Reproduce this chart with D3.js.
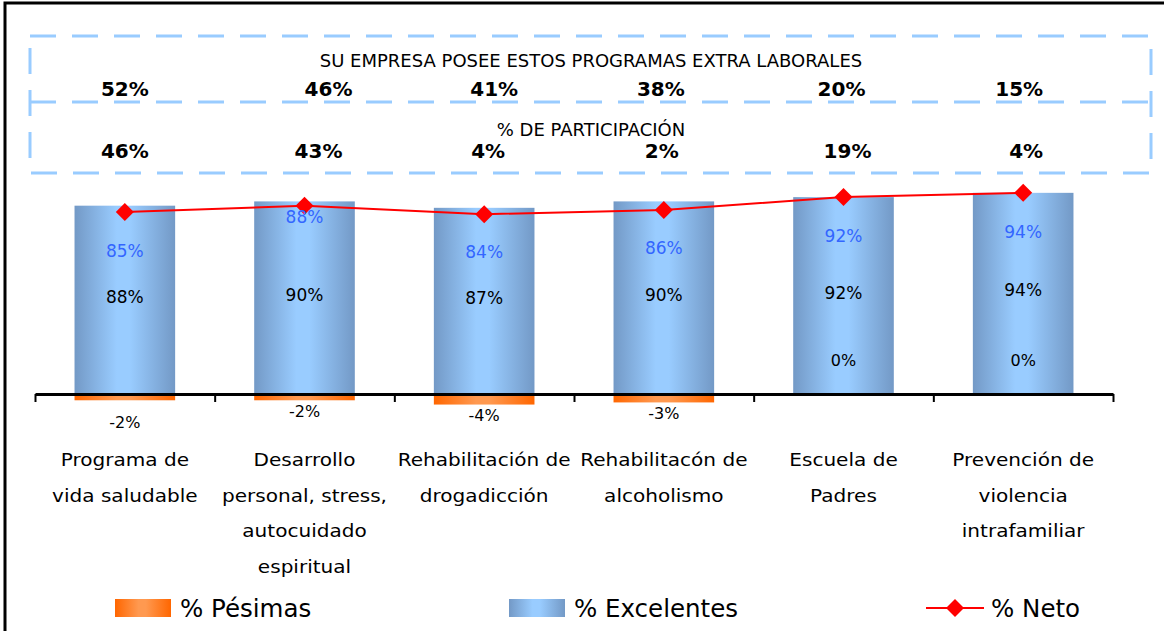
<!DOCTYPE html>
<html>
<head>
<meta charset="utf-8">
<script src="https://cdn.jsdelivr.net/npm/d3@7"></script>
<style>
  body { margin: 0; background: #fff; }
  text { font-family: "DejaVu Sans", sans-serif; }
</style>
</head>
<body>
<div id="chart"></div>
<script>
// Chart data
var categories = [
  "Programa de\nvida saludable",
  "Desarrollo\npersonal, stress,\nautocuidado\nespiritual",
  "Rehabilitación de\ndrogadicción",
  "Rehabilitacón de\nalcoholismo",
  "Escuela de\nPadres",
  "Prevención de\nviolencia\nintrafamiliar"
];
var posee = [52, 46, 41, 38, 20, 15];          // SU EMPRESA POSEE ESTOS PROGRAMAS
var participacion = [46, 43, 4, 2, 19, 4];     // % DE PARTICIPACIÓN
var excelentes = [88, 90, 87, 90, 92, 94];
var pesimas = [-2, -2, -4, -3, 0, 0];
var neto = [85, 88, 84, 86, 92, 94];
var legendNames = ["% Pésimas", "% Excelentes", "% Neto"];

// label placement tweaks copied from the original layout
var netoLabelDy = [39, 11, 38, 38, 39, 39];
var poseeNudge = [0, 24, 10, -3, -2, -4];
var partNudge = [0, 14, 4, -2, 4, 3];

var svgWidth = 1164;
var svgHeight = 631;

var svg = d3.select("#chart")
  .append("svg")
  .attr("width", svgWidth)
  .attr("height", svgHeight);

// gradients
var defs = svg.append("defs");
function addGradient(id, edge, mid) {
  var g = defs.append("linearGradient").attr("id", id)
    .attr("x1", "0%").attr("x2", "100%").attr("y1", "0%").attr("y2", "0%");
  g.append("stop").attr("offset", "0%").attr("stop-color", edge);
  g.append("stop").attr("offset", "42%").attr("stop-color", mid);
  g.append("stop").attr("offset", "55%").attr("stop-color", mid);
  g.append("stop").attr("offset", "100%").attr("stop-color", edge);
}
addGradient("gradBlue", "#7399C6", "#99CCFF");
addGradient("gradOrange", "#FF6600", "#FF9950");

// outer frame
svg.append("rect")
  .attr("x", 5).attr("y", 3)
  .attr("width", 1200).attr("height", 700)
  .attr("fill", "none")
  .attr("stroke", "#000")
  .attr("stroke-width", 3);

// scales
var x = d3.scaleBand()
  .domain(d3.range(categories.length))
  .range([35, 1113])
  .paddingInner(0.44)
  .paddingOuter(0.22);

var xEdge = d3.scaleLinear()
  .domain([0, categories.length])
  .range([35, 1113]);

var y = d3.scaleLinear()
  .domain([0, 100])
  .range([394, 180]);

var cx = function(i) { return x(i) + x.bandwidth() / 2; };

// dashed header boxes
var dash = svg.append("g")
  .attr("fill", "none")
  .attr("stroke", "#99CCFF")
  .attr("stroke-width", 3)
  .attr("stroke-dasharray", "26,16");
dash.append("rect").attr("x", 30).attr("y", 36).attr("width", 1121).attr("height", 137);
dash.append("line").attr("x1", 30).attr("x2", 1151).attr("y1", 102).attr("y2", 102);

svg.append("text")
  .attr("x", 591).attr("y", 67)
  .attr("text-anchor", "middle")
  .attr("font-size", "18px")
  .text("SU EMPRESA POSEE ESTOS PROGRAMAS EXTRA LABORALES");

svg.append("text")
  .attr("x", 591).attr("y", 136)
  .attr("text-anchor", "middle")
  .attr("font-size", "18px")
  .text("% DE PARTICIPACIÓN");

svg.append("g").selectAll("text")
  .data(posee)
  .enter()
  .append("text")
  .attr("x", (d, i) => cx(i) + poseeNudge[i])
  .attr("y", 96)
  .attr("text-anchor", "middle")
  .attr("font-size", "20px")
  .attr("font-weight", "bold")
  .text(d => d + "%");

svg.append("g").selectAll("text")
  .data(participacion)
  .enter()
  .append("text")
  .attr("x", (d, i) => cx(i) + partNudge[i])
  .attr("y", 158)
  .attr("text-anchor", "middle")
  .attr("font-size", "20px")
  .attr("font-weight", "bold")
  .text(d => d + "%");

// Excelentes bars
svg.append("g").selectAll("rect")
  .data(excelentes)
  .enter()
  .append("rect")
  .attr("x", (d, i) => x(i))
  .attr("y", d => y(d))
  .attr("width", x.bandwidth())
  .attr("height", d => y(0) - y(d))
  .attr("fill", "url(#gradBlue)");

// Pésimas bars (negative)
svg.append("g").selectAll("rect")
  .data(pesimas)
  .enter()
  .append("rect")
  .attr("x", (d, i) => x(i))
  .attr("y", y(0))
  .attr("width", x.bandwidth())
  .attr("height", d => y(d) - y(0) + (d < 0 ? 2 : 0))
  .attr("fill", "url(#gradOrange)");

// axis with boundary ticks
svg.append("g")
  .attr("transform", `translate(0, ${y(0)})`)
  .call(d3.axisBottom(xEdge).ticks(categories.length).tickSize(8).tickSizeOuter(0).tickFormat(""))
  .call(g => g.select(".domain").attr("stroke-width", 3))
  .call(g => g.selectAll(".tick line").attr("stroke-width", 2));

// Excelentes labels
svg.append("g").selectAll("text")
  .data(excelentes)
  .enter()
  .append("text")
  .attr("x", (d, i) => cx(i))
  .attr("y", d => (y(d) + y(0)) / 2 - 3)
  .attr("dy", "0.35em")
  .attr("text-anchor", "middle")
  .attr("font-size", "17px")
  .text(d => d + "%");

// Pésimas labels
svg.append("g").selectAll("text")
  .data(pesimas)
  .enter()
  .append("text")
  .attr("x", (d, i) => cx(i))
  .attr("y", (d, i) => d < 0 ? y(d) + (i === 0 ? 24 : 13) : y(0) - 34)
  .attr("dy", "0.35em")
  .attr("text-anchor", "middle")
  .attr("font-size", "16px")
  .text(d => d + "%");

// Neto line
var line = d3.line()
  .x((d, i) => cx(i))
  .y(d => y(d));

svg.append("path")
  .datum(neto)
  .attr("d", line)
  .attr("fill", "none")
  .attr("stroke", "#FF0000")
  .attr("stroke-width", 2);

var diamond = "M0,-9L9,0L0,9L-9,0Z";
svg.append("g").selectAll("path")
  .data(neto)
  .enter()
  .append("path")
  .attr("d", diamond)
  .attr("transform", (d, i) => `translate(${cx(i)}, ${y(d)})`)
  .attr("fill", "#FF0000");

svg.append("g").selectAll("text")
  .data(neto)
  .enter()
  .append("text")
  .attr("x", (d, i) => cx(i))
  .attr("y", (d, i) => y(d) + netoLabelDy[i])
  .attr("dy", "0.35em")
  .attr("text-anchor", "middle")
  .attr("font-size", "17px")
  .attr("fill", "#3366FF")
  .text(d => d + "%");

// category labels (the original font is a bit wider, so stretch horizontally)
var catGroup = svg.append("g");
categories.forEach(function(c, i) {
  var t = catGroup.append("text")
    .attr("transform", `translate(${cx(i)}, 0) scale(1.18, 1)`)
    .attr("text-anchor", "middle")
    .attr("font-size", "17px");
  c.split("\n").forEach(function(lineText, j) {
    t.append("tspan")
      .attr("x", 0)
      .attr("y", 460 + j * 35.7)
      .attr("dy", "0.35em")
      .text(lineText);
  });
});

// legend
var legend = svg.append("g");
legend.append("rect").attr("x", 115).attr("y", 599).attr("width", 56).attr("height", 18).attr("fill", "url(#gradOrange)");
legend.append("rect").attr("x", 509).attr("y", 599).attr("width", 56).attr("height", 18).attr("fill", "url(#gradBlue)");
legend.append("line").attr("x1", 926).attr("x2", 984).attr("y1", 608).attr("y2", 608)
  .attr("stroke", "#FF0000").attr("stroke-width", 2);
legend.append("path").attr("d", diamond).attr("transform", "translate(955, 608)").attr("fill", "#FF0000");

var legendX = [180, 574, 991];
legend.selectAll("text")
  .data(legendNames)
  .enter()
  .append("text")
  .attr("x", (d, i) => legendX[i])
  .attr("y", 617)
  .attr("font-size", "24.5px")
  .text(d => d);
</script>
</body>
</html>
